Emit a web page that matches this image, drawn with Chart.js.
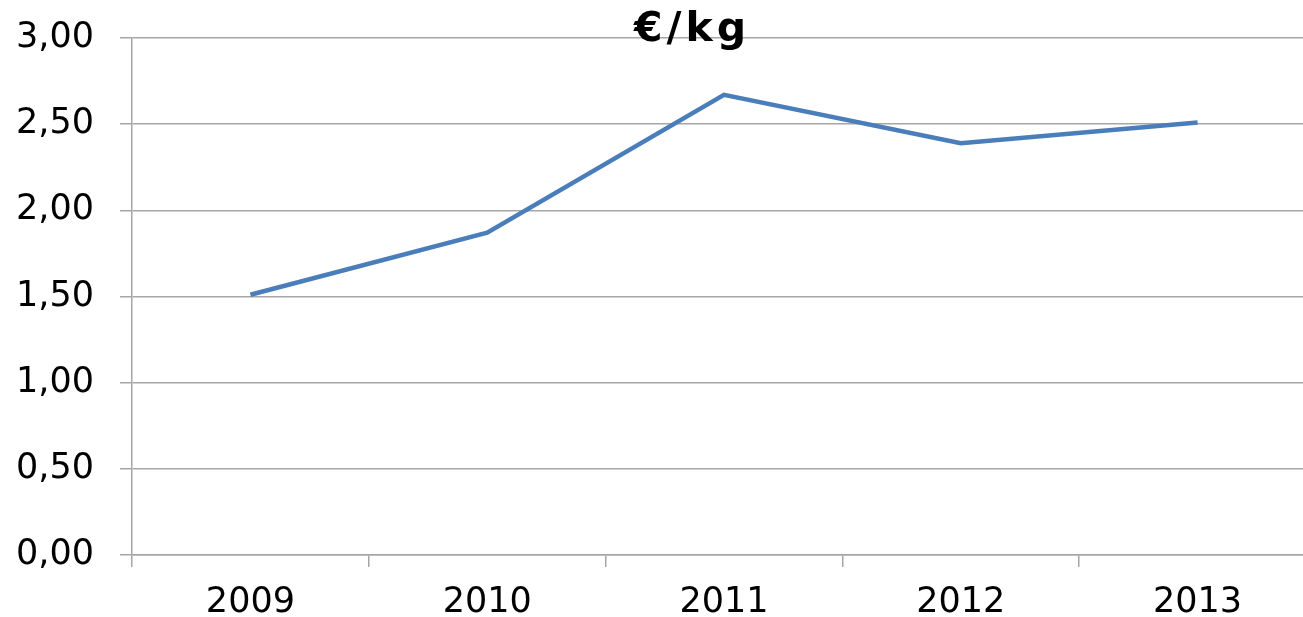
<!DOCTYPE html>
<html>
<head>
<meta charset="utf-8">
<script src="https://cdn.jsdelivr.net/npm/chart.js@4/dist/chart.umd.min.js"></script>
<style>
html,body{margin:0;padding:0;background:#fff;overflow:hidden;}
#wrap{position:relative;width:1320px;height:648px;margin-top:-9px;}
</style>
</head>
<body>
<div id="wrap"><canvas id="c"></canvas></div>
<script>
const categories = ['2009','2010','2011','2012','2013'];
const prices = [1.51, 1.87, 2.67, 2.39, 2.51];
const titleText = '€/kg';

const FONT = "'DejaVu Sans', Verdana, sans-serif";

const titlePlugin = {
  id: 'overlayTitle',
  afterDraw(chart) {
    const ctx = chart.ctx;
    ctx.save();
    ctx.font = "bold 41px " + FONT;
    ctx.fillStyle = '#000';
    try { ctx.letterSpacing = '4px'; } catch (e) {}
    ctx.textAlign = 'center';
    ctx.textBaseline = 'alphabetic';
    ctx.fillText(titleText, 692, 50);
    ctx.restore();
  }
};

new Chart(document.getElementById('c'), {
  type: 'line',
  data: {
    labels: categories,
    datasets: [{
      data: prices,
      borderColor: '#4a7ebb',
      borderWidth: 4.5,
      pointRadius: 0,
      tension: 0,
      fill: false
    }]
  },
  options: {
    responsive: true,
    maintainAspectRatio: false,
    animation: false,
    layout: { padding: { top: 12, right: 4, left: 12, bottom: 0 } },
    plugins: { legend: { display: false }, tooltip: { enabled: false } },
    scales: {
      x: {
        offset: true,
        grid: {
          offset: true,
          display: true,
          drawOnChartArea: false,
          drawTicks: true,
          tickLength: 12,
          color: '#a6a6a6',
          lineWidth: 1.5
        },
        border: { display: true, color: '#a6a6a6', width: 1.5 },
        ticks: {
          color: '#000',
          font: { family: FONT, size: 35 },
          padding: 15,
          maxRotation: 0
        }
      },
      y: {
        min: 0,
        max: 3,
        afterFit(scale) { scale.width = 120; },
        grid: {
          color: '#a6a6a6',
          lineWidth: 1.5,
          tickLength: 12
        },
        border: { display: true, color: '#a6a6a6', width: 1.5 },
        ticks: {
          stepSize: 0.5,
          color: '#000',
          font: { family: FONT, size: 35 },
          padding: 26,
          callback: (v) => v.toFixed(2).replace('.', ',')
        }
      }
    }
  },
  plugins: [titlePlugin]
});
</script>
</body>
</html>
